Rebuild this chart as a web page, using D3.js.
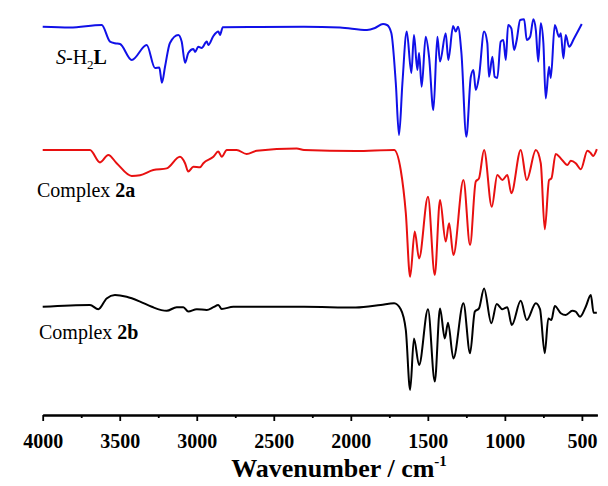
<!DOCTYPE html>
<meta charset="utf-8">
<style>
  body { margin: 0; background: #fff; }
  .trace { fill: none; stroke-width: 2px; stroke-linejoin: round; }
  .axis path, .axis line { stroke: #000; stroke-width: 1.8px; }
  .axis text { font-family: "Liberation Serif", "Times New Roman", serif; font-weight: bold; font-size: 20px; fill: #000; }
  .label { font-family: "Liberation Serif", "Times New Roman", serif; font-size: 20px; fill: #000; }
</style>
<body>
<script src="https://d3js.org/d3.v7.min.js"></script>
<script>
  // IR spectra: [wavenumber (cm-1), transmittance (a.u., offset)]
  var ligand = [
    [4000, 96.8], [3823, 96.6], [3617, 97.25], [3563, 93.1], [3531, 92.7], [3498, 92.5],
    [3422, 88.5], [3325, 92.25], [3271, 86.5], [3243, 86.6], [3226, 82.8], [3206, 86.8],
    [3174, 92.75], [3120, 94.75], [3098, 93.1], [3076, 87.8], [3055, 90.25], [3022, 91.25],
    [3011, 90.5], [2990, 91.8], [2968, 91.5], [2935, 93.1], [2925, 92.25], [2892, 94.5],
    [2860, 95.6], [2849, 94.75], [2831, 96.7], [2589, 96.75], [2304, 96.8], [2070, 96.6],
    [1895, 96.0], [1843, 96.5], [1791, 97.5], [1765, 97.25], [1737, 95.25], [1708, 82.75],
    [1687, 69.75], [1665, 82.75], [1637, 95.6], [1607, 85.25], [1590, 94.75], [1568, 86.0],
    [1557, 90.25], [1540, 81.8], [1514, 94.3], [1492, 89.3], [1464, 76.0], [1438, 94.3],
    [1421, 88.1], [1384, 95.2], [1367, 88.5], [1336, 97.0], [1319, 95.6], [1304, 96.8],
    [1282, 90.25], [1250, 69.3], [1221, 84.3], [1204, 86.0], [1189, 81.0], [1168, 84.3],
    [1135, 95.6], [1114, 92.75], [1103, 84.3], [1081, 89.3], [1066, 84.3], [1049, 84.0],
    [1027, 93.1], [1010, 93.5], [994, 88.5], [979, 97.25], [958, 96.4], [940, 91.0],
    [923, 93.5], [901, 98.5], [875, 98.7], [858, 93.5], [836, 94.3], [815, 98.7],
    [799, 96.0], [783, 88.1], [767, 97.7], [750, 92.75], [735, 78.9], [713, 86.8],
    [702, 84.0], [676, 97.25], [648, 94.3], [637, 95.2], [620, 88.9], [605, 94.75],
    [583, 91.8], [551, 93.9], [501, 97.5]
  ];

  var complex2a = [
    [4000, 66.0], [3693, 66.0], [3628, 62.9], [3574, 64.75], [3520, 62.7], [3422, 59.5],
    [3368, 59.7], [3282, 61.0], [3195, 61.4], [3109, 64.3], [3076, 62.7], [3055, 60.6],
    [3022, 61.8], [2979, 61.7], [2957, 62.7], [2892, 64.3], [2860, 65.6], [2838, 64.3],
    [2805, 66.0], [2741, 66.0], [2676, 65.0], [2611, 65.8], [2351, 66.4], [2304, 66.0],
    [1968, 65.75], [1719, 66.0], [1676, 61.0], [1643, 50.25], [1615, 34.3], [1585, 45.6],
    [1557, 38.9], [1499, 54.3], [1455, 34.75], [1421, 53.5], [1384, 43.1], [1362, 47.7],
    [1334, 39.75], [1269, 58.5], [1226, 42.25], [1189, 58.1], [1168, 58.9], [1135, 66.0],
    [1085, 51.8], [1049, 59.75], [1016, 58.5], [984, 59.75], [958, 55.2], [897, 66.0],
    [858, 58.5], [799, 66.0], [767, 62.7], [741, 46.2], [713, 58.5], [698, 58.9],
    [670, 65.0], [637, 63.9], [594, 62.25], [572, 63.3], [540, 62.7], [507, 61.2],
    [464, 65.8], [442, 65.2], [427, 64.5], [403, 66.2]
  ];

  var complex2b = [
    [4000, 26.8], [3693, 27.25], [3639, 26.2], [3585, 28.9], [3531, 29.75], [3455, 29.3],
    [3368, 28.1], [3292, 26.8], [3195, 25.8], [3130, 26.7], [3087, 26.7], [3055, 25.6],
    [3000, 26.2], [2935, 26.0], [2892, 26.7], [2860, 27.25], [2838, 26.25], [2763, 26.8],
    [2304, 26.8], [1968, 26.6], [1806, 27.25], [1719, 27.7], [1676, 26.2], [1643, 21.0],
    [1615, 6.0], [1590, 18.9], [1557, 12.25], [1499, 26.2], [1455, 8.1], [1421, 26.4],
    [1390, 18.9], [1369, 22.8], [1334, 13.9], [1269, 27.7], [1226, 15.2], [1195, 25.6],
    [1168, 26.4], [1135, 31.4], [1088, 22.7], [1053, 27.5], [1016, 26.2], [984, 26.7],
    [955, 22.25], [897, 28.3], [858, 23.5], [799, 27.7], [772, 26.2], [741, 15.2],
    [718, 23.9], [698, 23.5], [676, 27.0], [637, 25.2], [605, 24.75], [562, 25.8],
    [540, 25.6], [512, 24.3], [475, 26.8], [442, 29.75], [424, 25.3], [403, 25.3]
  ];

  var majorTicks = [4000, 3500, 3000, 2500, 2000, 1500, 1000, 500];
  var minorTicks = [3750, 3250, 2750, 2250, 1750, 1250, 750];

  var series = [
    { name: "ligand", data: ligand, color: "#1010e8" },
    { name: "2a", data: complex2a, color: "#e81010" },
    { name: "2b", data: complex2b, color: "#000000" }
  ];

  var width = 608, height = 486;
  var left = 42.7, right = 597.3, axisY = 415;

  var svg = d3.select("body").append("svg")
    .attr("width", width)
    .attr("height", height);

  var x = d3.scaleLinear().domain([4000, 400]).range([left, right]);
  var y = d3.scaleLinear().domain([0, 100]).range([414, 14]);

  var line = d3.line()
    .x(function (d) { return x(d[0]); })
    .y(function (d) { return y(d[1]); })
    .curve(d3.curveMonotoneX);

  svg.selectAll(".trace")
    .data(series)
    .enter()
    .append("path")
    .attr("class", "trace")
    .attr("stroke", function (d) { return d.color; })
    .attr("d", function (d) { return line(d.data); });

  // minor ticks
  svg.append("g")
    .attr("class", "axis")
    .attr("transform", "translate(0," + axisY + ")")
    .call(d3.axisBottom(x).tickValues(minorTicks).tickSize(3).tickSizeOuter(0).tickFormat(""));

  // major ticks + labels
  var ax = svg.append("g")
    .attr("class", "axis")
    .attr("transform", "translate(0," + axisY + ")")
    .call(d3.axisBottom(x).tickValues(majorTicks).tickSize(6).tickSizeOuter(0).tickFormat(d3.format("d")));
  ax.selectAll("text").attr("y", 33).attr("dy", 0);

  // axis title
  var title = svg.append("text")
    .attr("class", "label")
    .attr("x", 339)
    .attr("y", 477)
    .attr("text-anchor", "middle")
    .style("font-weight", "bold")
    .style("font-size", "26px");
  title.append("tspan").text("Wavenumber / cm");
  title.append("tspan").attr("dy", -11).style("font-size", "15px").text("-1");

  // trace labels
  var l1 = svg.append("text").attr("class", "label").attr("x", 56).attr("y", 64);
  l1.append("tspan").style("font-style", "italic").text("S");
  l1.append("tspan").text("-H");
  l1.append("tspan").attr("dy", 5).style("font-size", "13px").text("2");
  l1.append("tspan").attr("dy", -5).style("font-weight", "bold").text("L");

  var l2 = svg.append("text").attr("class", "label").attr("x", 37).attr("y", 197);
  l2.append("tspan").text("Complex ");
  l2.append("tspan").style("font-weight", "bold").text("2a");

  var l3 = svg.append("text").attr("class", "label").attr("x", 39).attr("y", 339);
  l3.append("tspan").text("Complex ");
  l3.append("tspan").style("font-weight", "bold").text("2b");
</script>
</body>
